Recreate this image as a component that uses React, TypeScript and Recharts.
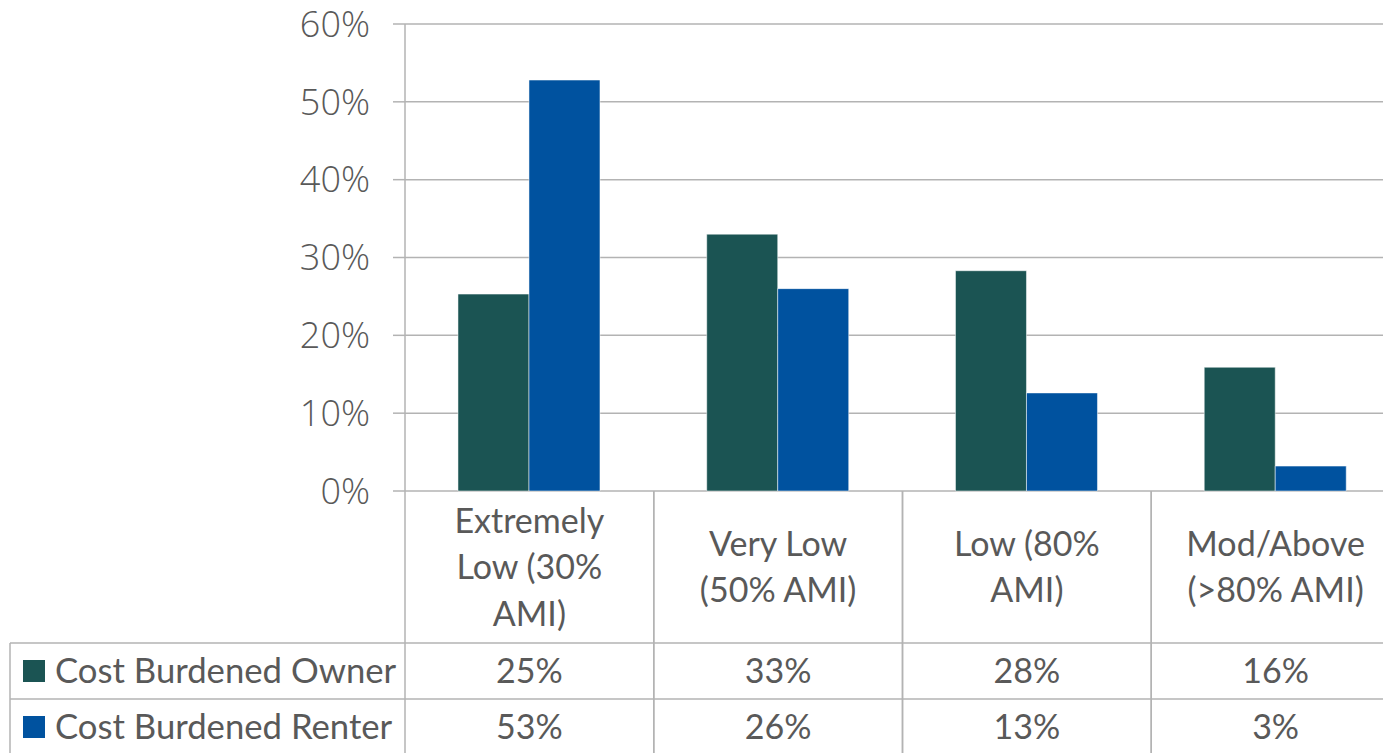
import React from 'react';
import { BarChart, Bar, XAxis, YAxis, CartesianGrid } from 'recharts';

const categories = ['Extremely Low (30% AMI)', 'Very Low (50% AMI)', 'Low (80% AMI)', 'Mod/Above (>80% AMI)'];
const categoryLines = [
    ['Extremely', 'Low (30%', 'AMI)'],
    ['Very Low', '(50% AMI)'],
    ['Low (80%', 'AMI)'],
    ['Mod/Above', '(>80% AMI)'],
];
const ownerValues = [25.3, 33.0, 28.3, 15.9];
const renterValues = [52.8, 26.0, 12.6, 3.2];
const seriesNames = ['Cost Burdened Owner', 'Cost Burdened Renter'];
const yTicks = [0, 10, 20, 30, 40, 50, 60];

const OWNER = '#1b5453';
const RENTER = '#00529f';
const TEXT = '#595959';
const LINE = '#b3b3b3';
const TABLE_FONT = 'Lato, sans-serif';

const CHART_W = 1400;
const CHART_H = 753;
const AXIS_W = 405;
const BAND = (CHART_W - AXIS_W) / categories.length;
const ROW1 = 643;
const ROW2 = 699;

const data = categories.map((c, i) => ({
    category: c,
    owner: ownerValues[i],
    renter: renterValues[i],
}));

// x-axis tick draws one column of the data table under the plot
const TableTick = (props: any) => {
    const { x, y, index } = props;
    const left = x - BAND / 2;
    const right = x + BAND / 2;
    const lines = categoryLines[index] || [];
    const lineH = 46.5;
    const firstBaseline = 579 - ((lines.length - 1) * lineH) / 2;
    const textStyle = { fontFamily: TABLE_FONT, fontSize: 34, fill: TEXT };
    const legendStyle = { ...textStyle, fontSize: 34.7 };
    return (
        <g>
            <line x1={left} y1={y} x2={left} y2={CHART_H} stroke={LINE} strokeWidth={1.5} />
            <line x1={right} y1={y} x2={right} y2={CHART_H} stroke={LINE} strokeWidth={1.5} />
            <line x1={left} y1={ROW1} x2={right} y2={ROW1} stroke={LINE} strokeWidth={1.5} />
            <line x1={left} y1={ROW2} x2={right} y2={ROW2} stroke={LINE} strokeWidth={1.5} />
            {lines.map((t, k) => (
                <text key={k} x={x} y={firstBaseline + k * lineH} textAnchor="middle" style={textStyle}>
                    {t}
                </text>
            ))}
            <text x={x} y={683} textAnchor="middle" style={textStyle}>
                {Math.round(ownerValues[index])}%
            </text>
            <text x={x} y={739} textAnchor="middle" style={textStyle}>
                {Math.round(renterValues[index])}%
            </text>
            {index === 0 && (
                <g>
                    <line x1={10} y1={ROW1} x2={left} y2={ROW1} stroke={LINE} strokeWidth={1.5} />
                    <line x1={10} y1={ROW2} x2={left} y2={ROW2} stroke={LINE} strokeWidth={1.5} />
                    <line x1={10} y1={ROW1} x2={10} y2={CHART_H} stroke={LINE} strokeWidth={1.5} />
                    <rect x={23} y={660} width={22} height={22} fill={OWNER} />
                    <rect x={23} y={716} width={22} height={22} fill={RENTER} />
                    <text x={55} y={683} style={legendStyle}>{seriesNames[0]}</text>
                    <text x={55} y={739} style={legendStyle}>{seriesNames[1]}</text>
                </g>
            )}
        </g>
    );
};

export default function App() {
    return (
        <div
            style={{
                position: 'fixed',
                left: 0,
                top: 0,
                width: 1383,
                height: 753,
                overflow: 'hidden',
                background: '#fff',
            }}
        >
            <BarChart
                width={CHART_W}
                height={CHART_H}
                data={data}
                margin={{ top: 24, right: 0, bottom: 0, left: 0 }}
                barCategoryGap="21.3%"
                barGap={0}
            >
                <CartesianGrid horizontal vertical={false} stroke={LINE} strokeWidth={1.5} />
                <XAxis
                    dataKey="category"
                    height={262}
                    interval={0}
                    axisLine={false}
                    tickLine={false}
                    tickSize={0}
                    tickMargin={0}
                    tick={<TableTick />}
                />
                <YAxis
                    width={AXIS_W}
                    domain={[0, 60]}
                    ticks={yTicks}
                    interval={0}
                    axisLine={{ stroke: LINE, strokeWidth: 1.5 }}
                    tickLine={{ stroke: LINE, strokeWidth: 1.5 }}
                    tickSize={12}
                    tickMargin={23}
                    tickFormatter={(v: number) => `${v}%`}
                    tick={{ fill: TEXT, fontSize: 36, fontFamily: '"Open Sans", sans-serif', fontWeight: 300 }}
                />
                <Bar dataKey="owner" name={seriesNames[0]} fill={OWNER} stroke="#ffffff" strokeOpacity={0.5} isAnimationActive={false} />
                <Bar dataKey="renter" name={seriesNames[1]} fill={RENTER} stroke="#ffffff" strokeOpacity={0.5} isAnimationActive={false} />
            </BarChart>
        </div>
    );
}
